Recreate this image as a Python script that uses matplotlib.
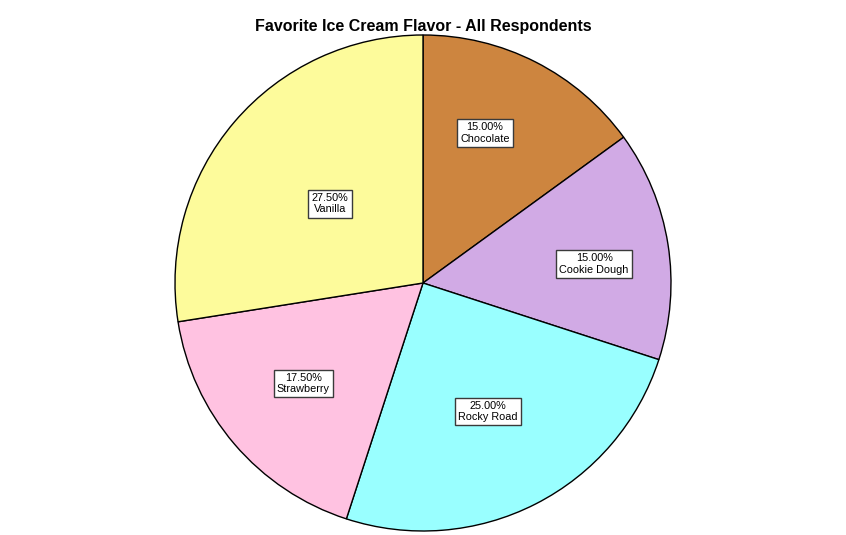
import matplotlib
matplotlib.use("Agg")
import matplotlib.pyplot as plt

plt.rcParams['font.family'] = ['Liberation Sans', 'DejaVu Sans']

flavors = ["Chocolate", "Cookie Dough", "Rocky Road", "Strawberry", "Vanilla"]
percents = [15.00, 15.00, 25.00, 17.50, 27.50]
colors = ["#CD853F", "#D1AAE5", "#99FFFF", "#FFC2E1", "#FDFB9B"]

# label anchor points in units of the pie radius (center at 0, 0)
label_xy = [(0.250, 0.605), (0.690, 0.077), (0.262, -0.518),
            (-0.482, -0.405), (-0.375, 0.319)]

fig = plt.figure(figsize=(8.46, 5.35), dpi=100)
W, H = 846, 535
cx, cy, r = 423, 283, 248
ax = fig.add_axes([(cx - r) / W, (H - cy - r) / H, 2 * r / W, 2 * r / H])

wedges, _ = ax.pie(percents, colors=colors, startangle=90, counterclock=False,
                   radius=1.0,
                   wedgeprops=dict(edgecolor="black", linewidth=1.0))

for pct, name, (lx, ly) in zip(percents, flavors, label_xy):
    ax.text(lx, ly, f"{pct:.2f}%\n{name}",
            ha="center", va="center", fontsize=7.8, linespacing=1.15,
            bbox=dict(boxstyle="square,pad=0.3", facecolor="white",
                      edgecolor="#3a3a3a", linewidth=1.0))

ax.set_xlim(-1, 1)
ax.set_ylim(-1, 1)
ax.set_aspect("equal")
ax.axis("off")

fig.text(423 / W, 1 - 26 / H, "Favorite Ice Cream Flavor - All Respondents",
         ha="center", va="center", fontsize=11.5, fontweight="bold")

fig.savefig("out.png", dpi=100)
